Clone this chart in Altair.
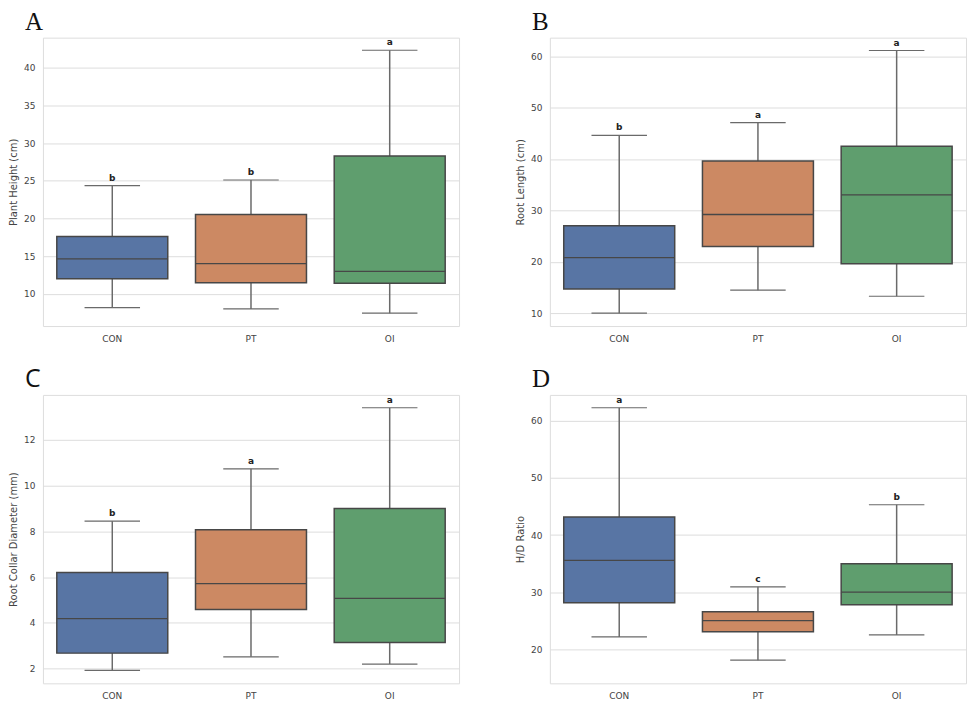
import altair as alt
import pandas as pd

groups = ["CON", "PT", "OI"]
colors = ["#5875A4", "#CC8963", "#5F9E6E"]

# Panel A - Plant Height (cm)
a_low = [8.15, 7.98, 7.41]
a_q1 = [11.98, 11.45, 11.37]
a_med = [14.62, 14.0, 12.96]
a_q3 = [17.58, 20.53, 28.28]
a_high = [24.36, 25.1, 42.33]
a_sig = ["b", "b", "a"]

# Panel B - Root Length (cm)
b_low = [10.0, 14.48, 13.3]
b_q1 = [14.73, 22.97, 19.6]
b_med = [20.83, 29.2, 33.0]
b_q3 = [27.0, 39.6, 42.46]
b_high = [44.6, 47.07, 61.1]
b_sig = ["b", "a", "a"]

# Panel C - Root Collar Diameter (mm)
c_low = [1.93, 2.52, 2.2]
c_q1 = [2.68, 4.59, 3.14]
c_med = [4.19, 5.72, 5.07]
c_q3 = [6.2, 8.07, 9.0]
c_high = [8.45, 10.74, 13.41]
c_sig = ["b", "a", "a"]

# Panel D - H/D Ratio
d_low = [22.2, 18.14, 22.55]
d_q1 = [28.19, 23.13, 27.84]
d_med = [35.6, 25.05, 30.04]
d_q3 = [43.16, 26.62, 34.98]
d_high = [62.26, 30.97, 45.31]
d_sig = ["a", "c", "b"]

W, H = 417, 289
EDGE = "#474747"
WHISK = "#6a6a6a"
FONT = "DejaVu Sans"


def panel(letter, font, ytitle, low, q1, med, q3, high, sig, domain, ticks):
    df = pd.DataFrame({"group": groups, "low": low, "q1": q1, "median": med,
                       "q3": q3, "high": high, "sig": sig})
    yscale = alt.Scale(domain=domain, nice=False, zero=False)
    base = alt.Chart(df).encode(
        x=alt.X("group:N", sort=groups, title=None,
                scale=alt.Scale(paddingInner=0, paddingOuter=0),
                axis=alt.Axis(labelAngle=0, grid=False, ticks=False, domain=False,
                              labelPadding=8, labelFont=FONT, labelFontSize=9,
                              labelColor="#444444"))
    )
    whisker = base.mark_rule(color=WHISK, strokeWidth=1.5).encode(
        y=alt.Y("low:Q", scale=yscale, title=ytitle,
                axis=alt.Axis(values=ticks, ticks=False, domain=False, labelPadding=8,
                              minExtent=21, maxExtent=21, titlePadding=3,
                              labelFont=FONT, labelFontSize=9, labelColor="#444444",
                              titleFont=FONT, titleFontSize=10, titleFontWeight="normal",
                              titleColor="#444444")),
        y2="high:Q",
    )
    box = base.mark_bar(width={"band": 0.8}, stroke=EDGE, strokeWidth=1.5).encode(
        y="q1:Q", y2="q3:Q",
        color=alt.Color("group:N", scale=alt.Scale(domain=groups, range=colors), legend=None),
    )
    median = base.mark_bar(width={"band": 0.8}, stroke=EDGE, strokeWidth=1.3, fill=EDGE).encode(
        y="median:Q", y2="median:Q")
    cap_low = base.mark_bar(width={"band": 0.4}, stroke=WHISK, strokeWidth=1.2, fill=WHISK).encode(
        y="low:Q", y2="low:Q")
    cap_high = base.mark_bar(width={"band": 0.4}, stroke=WHISK, strokeWidth=1.2, fill=WHISK).encode(
        y="high:Q", y2="high:Q")
    text = base.mark_text(baseline="bottom", dy=-3, fontWeight="bold", fontSize=9,
                          color="#222222", font=FONT).encode(
        y="high:Q", text="sig:N")
    return alt.layer(whisker, box, median, cap_low, cap_high, text).properties(
        width=W, height=H,
        title=alt.TitleParams(letter, anchor="start", frame="group", dx=-18,
                              fontSize=25, font=font, fontWeight="normal",
                              color="#111111", offset=3),
    )


pA = panel("A", "Liberation Serif", "Plant Height (cm)", a_low, a_q1, a_med, a_q3, a_high, a_sig,
           [5.7, 44.0], [10, 15, 20, 25, 30, 35, 40])
pB = panel("B", "Liberation Serif", "Root Length (cm)", b_low, b_q1, b_med, b_q3, b_high, b_sig,
           [7.5, 63.6], [10, 20, 30, 40, 50, 60])
pC = panel("C", "Open Sans", "Root Collar Diameter (mm)", c_low, c_q1, c_med, c_q3, c_high, c_sig,
           [1.36, 13.97], [2, 4, 6, 8, 10, 12])
pD = panel("D", "Liberation Serif", "H/D Ratio", d_low, d_q1, d_med, d_q3, d_high, d_sig,
           [14.1, 64.5], [20, 30, 40, 50, 60])

chart = alt.vconcat(
    alt.hconcat(pA, pB, spacing=55),
    alt.hconcat(pC, pD, spacing=55),
    spacing=22,
).properties(
    padding=0
).configure_view(
    stroke="#dddddd", strokeWidth=1.2
).configure_axis(
    labelFont=FONT, labelFontSize=9, labelColor="#444444",
    titleFont=FONT, titleFontSize=10, titleFontWeight="normal", titleColor="#444444",
    gridColor="#e8e8e8", gridWidth=1,
).configure(background="white")

chart.save("out.html", embed_options={"renderer": "svg", "actions": False})
